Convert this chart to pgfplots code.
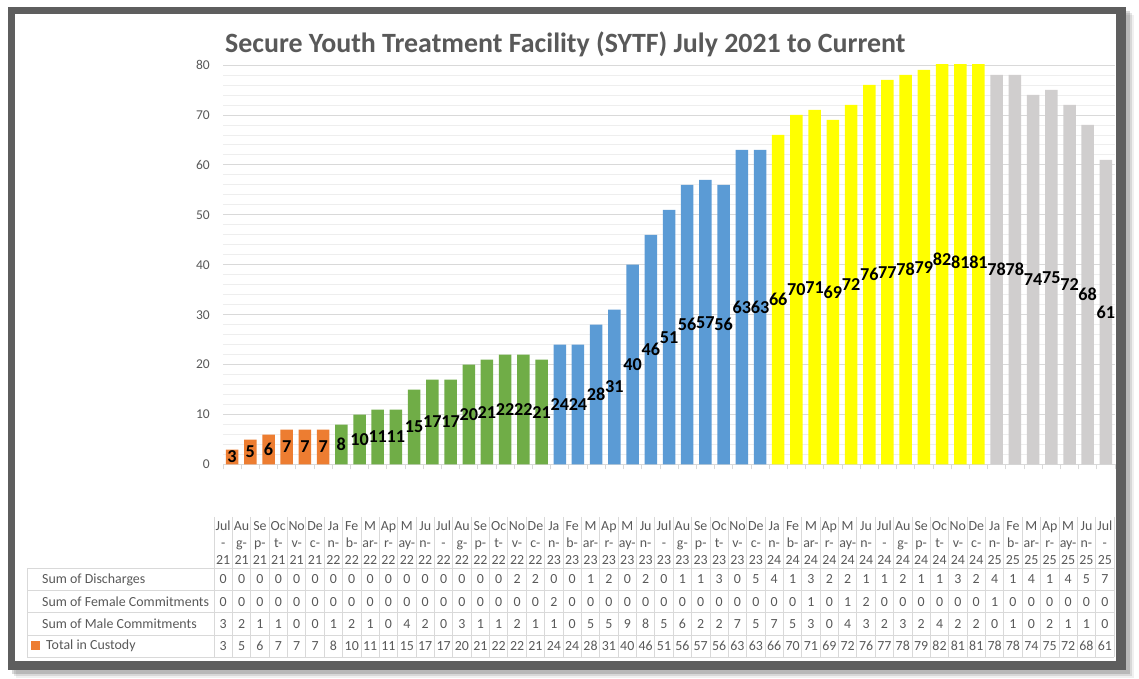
\documentclass[border=0pt]{standalone}
\usepackage{fontspec}
\setmainfont{Carlito}
\usepackage{pgfplots}
\usepackage{pgfplotstable}
\pgfplotsset{compat=1.18}

\definecolor{c21}{HTML}{ED7D31}
\definecolor{c22}{HTML}{70AD47}
\definecolor{c23}{HTML}{5B9BD5}
\definecolor{c24}{HTML}{FFFF00}
\definecolor{c25}{HTML}{D0CECE}
\definecolor{txtgray}{HTML}{595959}
\definecolor{gridmaj}{HTML}{D9D9D9}
\definecolor{gridmin}{HTML}{EEEEEE}
\definecolor{framegray}{HTML}{5E5E5E}

% month index, discharges, female, male, total in custody
\pgfplotstableread{
idx dis fem male total
0  0 0 3 3
1  0 0 2 5
2  0 0 1 6
3  0 0 1 7
4  0 0 0 7
5  0 0 0 7
6  0 0 1 8
7  0 0 2 10
8  0 0 1 11
9  0 0 0 11
10 0 0 4 15
11 0 0 2 17
12 0 0 0 17
13 0 0 3 20
14 0 0 1 21
15 0 0 1 22
16 2 0 2 22
17 2 0 1 21
18 0 2 1 24
19 0 0 0 24
20 1 0 5 28
21 2 0 5 31
22 0 0 9 40
23 2 0 8 46
24 0 0 5 51
25 1 0 6 56
26 1 0 2 57
27 3 0 2 56
28 0 0 7 63
29 5 0 5 63
30 4 0 7 66
31 1 0 5 70
32 3 1 3 71
33 2 0 0 69
34 2 1 4 72
35 1 2 3 76
36 1 0 2 77
37 2 0 3 78
38 1 0 2 79
39 1 0 4 82
40 3 0 2 81
41 2 0 2 81
42 4 1 0 78
43 1 0 1 78
44 4 0 0 74
45 1 0 2 75
46 4 0 1 72
47 5 0 1 68
48 7 0 0 61
}\custody

\pgfplotsset{
  bar/.style={ybar, bar width=12.5pt, bar shift=0pt, draw=none, fill=#1},
  cell/.style={draw=none, mark=none, nodes near coords, point meta=explicit symbolic,
    nodes near coords style={anchor=center, inner sep=0pt, text=txtgray,
      font=\fontsize{13.9}{15}\selectfont}},
}

\begin{document}
\begin{tikzpicture}[x=1pt,y=1pt]
\useasboundingbox (0,0) rectangle (1139,679);
% frame with shadow
\foreach \s/\o in {8/0.06,6/0.10,4/0.15} \fill[black,opacity=\o] (8+\s,9-\s) rectangle (1126+\s,672-\s);
\fill[framegray] (8,9) rectangle (1126,672);
\fill[white] (15,18) rectangle (1116,665);

\node[anchor=base west, inner sep=0pt, text=txtgray, font=\bfseries\fontsize{27.9}{32}\selectfont] at (225,626)
  {Secure Youth Treatment Facility (SYTF) July 2021 to Current};

\begin{axis}[
  at={(223pt,214.5pt)}, anchor=south west,
  scale only axis, width=892pt, height=399.5pt,
  xmin=-0.5, xmax=48.5, ymin=0, ymax=80,
  ytick={0,10,...,80}, minor y tick num=4,
  ymajorgrids, yminorgrids,
  major grid style={draw=gridmaj, line width=0.8pt},
  minor grid style={draw=gridmin, line width=0.8pt},
  xtick={-0.5,0.5,...,48.5}, xticklabels={},
  axis x line*=bottom, axis y line*=left,
  y axis line style={draw=none},
  x axis line style={draw=gridmaj, line width=0.8pt, -},
  xtick style={draw=gridmaj, line width=0.8pt},
  ytick style={draw=none},
  tick align=outside, major tick length=5pt, minor tick length=0pt,
  yticklabel style={font=\fontsize{13.5}{16}\selectfont, text=txtgray,
    anchor=east, inner sep=0pt, xshift=-8pt},
  /pgf/number format/assume math mode=true,
]
\addplot[bar=c21, restrict x to domain=-0.5:5.5] table[x=idx, y=total] {\custody};
\addplot[bar=c22, restrict x to domain=5.5:17.5] table[x=idx, y=total] {\custody};
\addplot[bar=c23, restrict x to domain=17.5:29.5] table[x=idx, y=total] {\custody};
\addplot[bar=c24, restrict x to domain=29.5:41.5] table[x=idx, y=total] {\custody};
\addplot[bar=c25, restrict x to domain=41.5:48.5] table[x=idx, y=total] {\custody};
% data labels in the middle of each bar
\addplot[draw=none, mark=none, nodes near coords, point meta=explicit symbolic,
  nodes near coords style={anchor=center, inner sep=0pt, text=black,
    font=\bfseries\fontsize{18.2}{20}\selectfont}]
  table[x=idx, y expr=\thisrow{total}/2, meta=total] {\custody};
\end{axis}

% data table grid
\foreach \k in {0,...,49}
  \draw[gridmaj, line width=0.8pt] ({214+\k*18.367},162) -- ({214+\k*18.367},21.7);
\foreach \yy in {568.3,590.5,612.8,635,657.3}
  \draw[gridmaj, line width=0.8pt] (27,679-\yy) -- (1114,679-\yy);
\draw[gridmaj, line width=0.8pt] (27,110.7) -- (27,21.7);

\begin{scope}[every node/.style={anchor=west, inner sep=0pt, text=txtgray, font=\fontsize{13.9}{15}\selectfont}]
\node at (42,99.6) {Sum of Discharges};
\node at (42,77.4) {Sum of Female Commitments};
\node at (42,55.1) {Sum of Male Commitments};
\node at (46,32.8) {Total in Custody};
\end{scope}
\fill[c21] (31,29) rectangle (40,37.5);

\begin{axis}[
  at={(214pt,21.7pt)}, anchor=south west,
  scale only axis, width=900pt, height=140.3pt,
  xmin=-0.5, xmax=48.5, ymin=0, ymax=6.306,
  axis line style={draw=none}, ytick=\empty,
  xtick={0,...,48}, major tick length=0pt, tick style={draw=none},
  xticklabels={
    {Jul\\-\\21},{Au\\g-\\21},{Se\\p-\\21},{Oc\\t-\\21},{No\\v-\\21},{De\\c-\\21},
    {Ja\\n-\\22},{Fe\\b-\\22},{M\\ar-\\22},{Ap\\r-\\22},{M\\ay-\\22},{Ju\\n-\\22},
    {Jul\\-\\22},{Au\\g-\\22},{Se\\p-\\22},{Oc\\t-\\22},{No\\v-\\22},{De\\c-\\22},
    {Ja\\n-\\23},{Fe\\b-\\23},{M\\ar-\\23},{Ap\\r-\\23},{M\\ay-\\23},{Ju\\n-\\23},
    {Jul\\-\\23},{Au\\g-\\23},{Se\\p-\\23},{Oc\\t-\\23},{No\\v-\\23},{De\\c-\\23},
    {Ja\\n-\\24},{Fe\\b-\\24},{M\\ar-\\24},{Ap\\r-\\24},{M\\ay-\\24},{Ju\\n-\\24},
    {Jul\\-\\24},{Au\\g-\\24},{Se\\p-\\24},{Oc\\t-\\24},{No\\v-\\24},{De\\c-\\24},
    {Ja\\n-\\25},{Fe\\b-\\25},{M\\ar-\\25},{Ap\\r-\\25},{M\\ay-\\25},{Ju\\n-\\25},
    {Jul\\-\\25}},
  xticklabel style={anchor=center, yshift=114.3pt, align=center, inner sep=0pt,
    text=txtgray, font=\fontsize{13.9}{17}\selectfont},
  clip=false,
]
\addplot[cell] table[x=idx, y expr=3.5, meta=dis] {\custody};
\addplot[cell] table[x=idx, y expr=2.5, meta=fem] {\custody};
\addplot[cell] table[x=idx, y expr=1.5, meta=male] {\custody};
\addplot[cell] table[x=idx, y expr=0.5, meta=total] {\custody};
\end{axis}
\end{tikzpicture}
\end{document}
